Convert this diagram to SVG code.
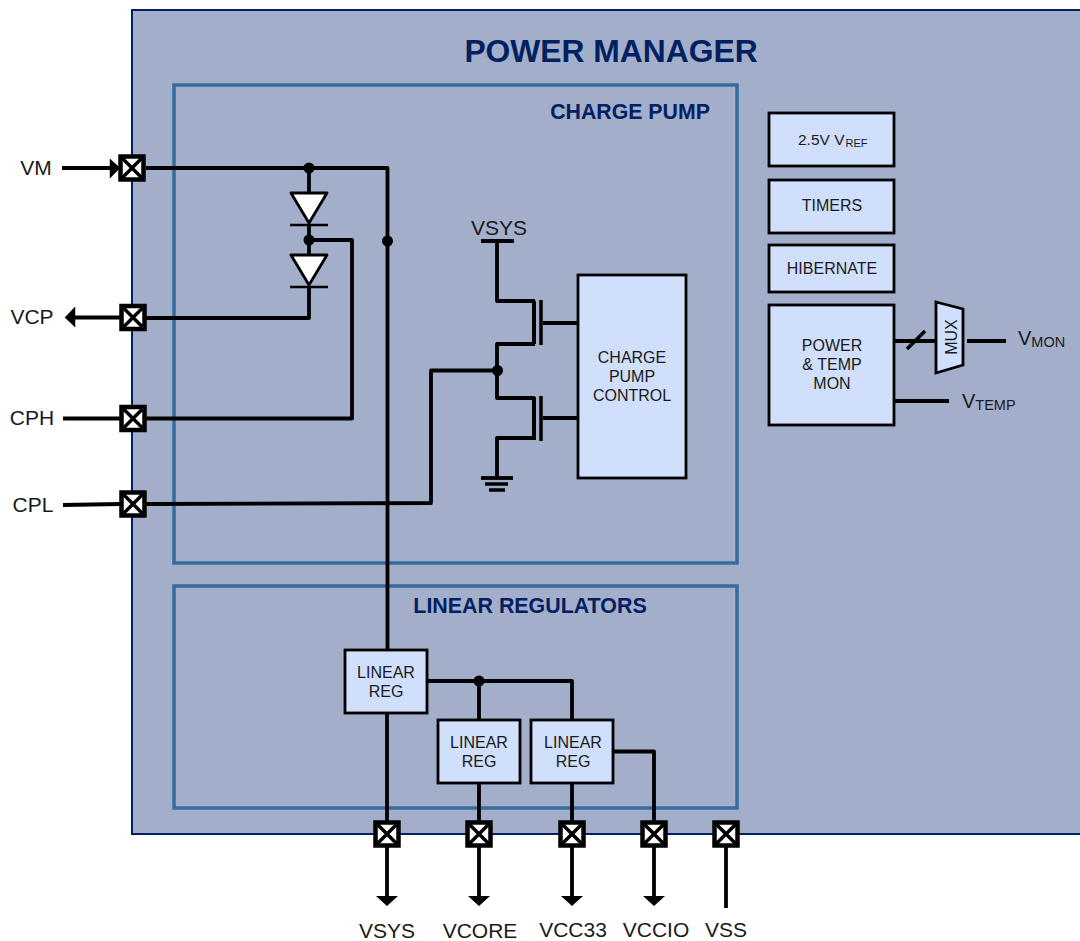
<svg xmlns="http://www.w3.org/2000/svg" width="1080" height="941" viewBox="0 0 1080 941">
<defs>
<g id="pin"><rect x="-11.500" y="-11.500" width="23" height="23" fill="#fff" stroke="#000" stroke-width="4.500"/><path d="M-11-11L11 11M11-11L-11 11" stroke="#000" stroke-width="3.500" fill="none"/></g>
<g id="diode"><path d="M-18-21H18L0 9Z" fill="#fff" stroke="#000" stroke-width="2.800" stroke-linejoin="round"/><path d="M-19 11H19" stroke="#000" stroke-width="2.500"/></g>
<g id="fet"><path d="M0 0V43" stroke="#000" stroke-width="4" fill="none"/><path d="M7 -1V44" stroke="#000" stroke-width="3.500" fill="none"/></g>
</defs>
<style>
text{font-family:"Liberation Sans",Arial,sans-serif;fill:#1a1a1a}
.b{fill:#d0dffc;stroke:#000;stroke-width:2.800}
.t{font-size:16px;text-anchor:middle}
.l{font-size:21px;text-anchor:middle}
.h{font-weight:bold;fill:#002060;text-anchor:middle}
.w{fill:none;stroke:#000;stroke-width:3.800;stroke-linejoin:round}
.f{stroke:#000;stroke-width:.5}
.s{font-size:15.500px}
.sub{font-size:11px}
</style>
<rect id="frame" x="132" y="10" width="960" height="824" fill="#a3aeca" stroke="#002060" stroke-width="2"/>
<text class="h" x="611" y="62" font-size="31.800">POWER MANAGER</text>
<g id="charge-pump-frame"><rect x="174" y="85" width="563" height="478" fill="none" stroke="#366b9e" stroke-width="3.500"/><text class="h" x="630" y="119" font-size="21.300">CHARGE PUMP</text></g>
<g id="linear-frame"><rect x="174" y="586" width="563" height="222" fill="none" stroke="#366b9e" stroke-width="3.500"/><text class="h" x="530" y="613" font-size="21.400">LINEAR REGULATORS</text></g>

<g id="connectors">
<path class="w" d="M62 168H118"/>
<path class="f" d="M110 159L120 168L110 178Z"/>
<path class="w" d="M146 168H387.500V650"/>
<path class="w" d="M309 168V195M309 225V255M309 288V318H146"/>
<path class="w" d="M309 240H352V418.500H146"/>
<path class="w" d="M74 317.500H120"/>
<path class="f" d="M75 307L65 317.500L75 327Z"/>
<path class="w" d="M63 418.500H120M63 505L120 504M146 504L431 503V370.500H497"/>
<path class="w" d="M387 713V822"/>
<path class="w" d="M428 681H572V720M479 681V720"/>
<path class="w" d="M479 784V822M572 784V822"/>
<path class="w" d="M612 751.500H654V822"/>
<path class="w" d="M387 846V898M479 846V898M572 846V898M654 846V898M726 846V908"/>
<path d="M376 896H398L387 906ZM468 896H490L479 906ZM561 896H583L572 906ZM643 896H665L654 906Z"/>
<path class="w" d="M481 241H514M497 241V301H535M535 344H497V398H535M535 438H497V478M578 323H543M578 418H543"/>
<path class="w" d="M481 478H513"/>
<path d="M485 484H508" stroke="#000" stroke-width="3.500"/>
<path d="M489 490H505" stroke="#000" stroke-width="3.500"/>
<path class="w" d="M894 341H936M967 341H1006M894 401H949"/>
<path d="M907 349L925 331" stroke="#000" stroke-width="3.500"/>
<circle cx="309" cy="168" r="5.500"/><circle cx="309" cy="240" r="5.500"/><circle cx="387.500" cy="241" r="5.500"/><circle cx="497.500" cy="370.500" r="5.500"/><circle cx="479" cy="681" r="5.500"/>
</g>

<use id="d1" href="#diode" x="309" y="214"/>
<use id="d2" href="#diode" x="309" y="276"/>
<use id="q1" href="#fet" x="534" y="301"/>
<use id="q2" href="#fet" x="534" y="397"/>

<g id="pin-vm"><use href="#pin" x="132" y="168"/><text class="l" x="36" y="175">VM</text></g>
<g id="pin-vcp"><use href="#pin" x="133" y="317.500"/><text class="l" x="32" y="324">VCP</text></g>
<g id="pin-cph"><use href="#pin" x="133" y="418.500"/><text class="l" x="32" y="425">CPH</text></g>
<g id="pin-cpl"><use href="#pin" x="133" y="504"/><text class="l" x="33" y="512">CPL</text></g>
<g id="pin-vsys"><use href="#pin" x="387" y="834"/><text class="l" x="387" y="938">VSYS</text></g>
<g id="pin-vcore"><use href="#pin" x="479" y="834"/><text class="l" x="480" y="938">VCORE</text></g>
<g id="pin-vcc33"><use href="#pin" x="572" y="834"/><text class="l" x="573" y="937">VCC33</text></g>
<g id="pin-vccio"><use href="#pin" x="654" y="834"/><text class="l" x="656" y="937">VCCIO</text></g>
<g id="pin-vss"><use href="#pin" x="726" y="834"/><text class="l" x="726" y="937">VSS</text></g>

<text id="vsys-label" class="l" x="499" y="235">VSYS</text>

<g id="cp-control"><rect class="b" x="578" y="275" width="108" height="203"/><text class="t" x="632" y="363">CHARGE</text><text class="t" x="632" y="382">PUMP</text><text class="t" x="632" y="401">CONTROL</text></g>
<g id="vref"><rect class="b" x="769" y="113" width="125" height="53"/><text class="s" x="798" y="145">2.5V V<tspan class="sub" dx="1" dy="2">REF</tspan></text></g>
<g id="timers"><rect class="b" x="769" y="180" width="125" height="53"/><text class="t" x="832" y="211">TIMERS</text></g>
<g id="hibernate"><rect class="b" x="769" y="245" width="125" height="47"/><text class="t" x="832" y="274">HIBERNATE</text></g>
<g id="power-temp"><rect class="b" x="769" y="305" width="125" height="120"/><text class="t" x="832" y="351">POWER</text><text class="t" x="832" y="370">&amp; TEMP</text><text class="t" x="832" y="389">MON</text></g>
<g id="mux"><path class="b" d="M936 302L963 309V365L936 373Z"/><text class="t" transform="translate(957 337) rotate(-90)">MUX</text></g>
<text id="vmon" font-size="20" x="1018" y="345">V<tspan font-size="14.500" dy="2">MON</tspan></text>
<text id="vtemp" font-size="20" x="962" y="408">V<tspan font-size="14.500" dy="2">TEMP</tspan></text>

<g id="reg1"><rect class="b" x="345" y="650" width="82" height="63"/><text class="t" x="386" y="678">LINEAR</text><text class="t" x="386" y="697">REG</text></g>
<g id="reg2"><rect class="b" x="438" y="720" width="82" height="63"/><text class="t" x="479" y="748">LINEAR</text><text class="t" x="479" y="767">REG</text></g>
<g id="reg3"><rect class="b" x="531" y="720" width="82" height="63"/><text class="t" x="573" y="748">LINEAR</text><text class="t" x="573" y="767">REG</text></g>
</svg>
